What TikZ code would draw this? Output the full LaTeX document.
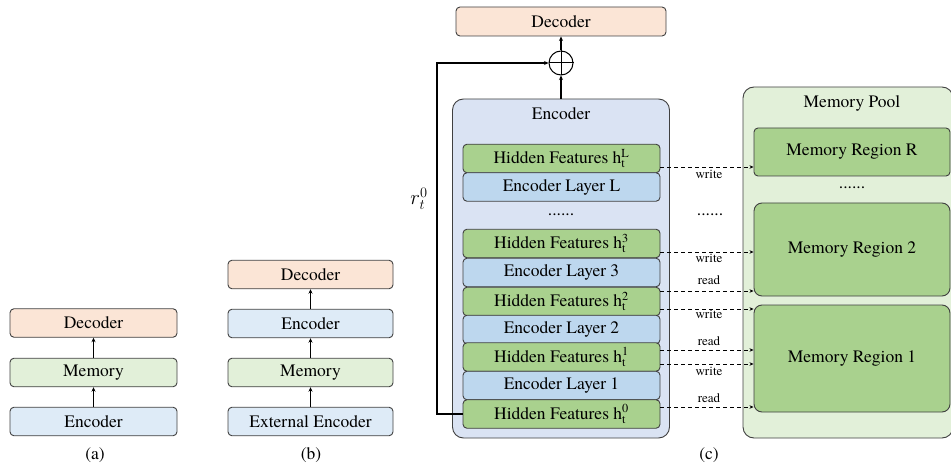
\documentclass[tikz,border=0pt]{standalone}
\usepackage{fontspec}
\setmainfont{texgyretermes}[Extension=.otf, UprightFont=*-regular, BoldFont=*-bold, ItalicFont=*-italic, BoldItalicFont=*-bolditalic]
\usepackage{amsmath}
\usetikzlibrary{arrows.meta}
\definecolor{dec}{HTML}{FBE5D6}
\definecolor{mem}{HTML}{E2F0D9}
\definecolor{encb}{HTML}{DEEBF7}
\definecolor{enco}{HTML}{DAE3F3}
\definecolor{encl}{HTML}{BDD7EE}
\definecolor{hid}{HTML}{A9D18E}
\definecolor{bord}{HTML}{404040}
\tikzset{
  box/.style={draw=bord, line width=0.9pt, rounded corners=4pt, minimum width=#1,
    minimum height=28.5pt, inner sep=0pt, font=\fontsize{17.5}{20}\selectfont},
  big/.style={draw=bord, line width=0.9pt, rounded corners=11pt, inner sep=0pt},
  txt/.style={inner sep=0pt, font=\fontsize{17.5}{20}\selectfont},
  small/.style={inner sep=0pt, font=\fontsize{13}{15}\selectfont},
  conn/.style={line width=1.3pt, -{Stealth[length=4.5pt,width=4pt]}},
  darr/.style={line width=0.9pt, dash pattern=on 4pt off 3pt, -{Stealth[length=4pt,width=3.5pt]}},
}
\newcommand{\hfeat}[1]{Hidden Features h$_{\text{t}}^{\text{#1}}$}
\begin{document}
\begin{tikzpicture}[x=1pt,y=-1pt]
\useasboundingbox (0,0) rectangle (951,476);
% (a)
\node[box=167pt, fill=dec] (aD) at (93.5,323) {Decoder};
\node[box=167pt, fill=mem] (aM) at (93.5,372.5) {Memory};
\node[box=167pt, fill=encb] (aE) at (93.5,421.5) {Encoder};
\draw[conn] (aE) -- (aM);
\draw[conn] (aM) -- (aD);
\node[txt] (la) at (95,455) {(a)};
% (b)
\node[box=165pt, fill=dec] (bD) at (310.5,274.5) {Decoder};
\node[box=165pt, fill=encb] (bE) at (310.5,323.5) {Encoder};
\node[box=165pt, fill=mem] (bM) at (310.5,372.5) {Memory};
\node[box=165pt, fill=encb] (bX) at (310.5,421.5) {External Encoder};
\draw[conn] (bX) -- (bM);
\draw[conn] (bM) -- (bE);
\draw[conn] (bE) -- (bD);
\node[txt] (lb) at (311,455) {(b)};
% (c)
\node[box=210pt, fill=dec, minimum height=29pt] (cD) at (561,21.5) {Decoder};
\node[circle, draw=black, line width=1pt, minimum size=24pt, inner sep=0pt] (plus) at (561,63) {};
\draw[line width=1pt] (plus.north) -- (plus.south) (plus.west) -- (plus.east);
\node[big, fill=enco, minimum width=217pt, minimum height=339pt] (encO) at (561,268.5) {};
\node[txt] (encT) at (561,114) {Encoder};
\draw[conn] (encO.north) -- (plus.south);
\draw[conn] (plus.north) -- (cD.south);

\node[box=197pt, fill=hid] (hL) at (561.5,158.5) {\hfeat{L}};
\node[box=197pt, fill=encl] (eL) at (561.5,187) {Encoder Layer L};
\node[txt] (dots1) at (561,215) {......};
\node[box=197pt, fill=hid] (h3) at (561.5,243.5) {\hfeat{3}};
\node[box=197pt, fill=encl] (e3) at (561.5,272.5) {Encoder Layer 3};
\node[box=197pt, fill=hid] (h2) at (561.5,301.5) {\hfeat{2}};
\node[box=197pt, fill=encl] (e2) at (561.5,329.5) {Encoder Layer 2};
\node[box=197pt, fill=hid] (h1) at (561.5,357) {\hfeat{1}};
\node[box=197pt, fill=encl] (e1) at (561.5,385.5) {Encoder Layer 1};
\node[box=197pt, fill=hid] (h0) at (561.5,414) {\hfeat{0}};

\coordinate (lc) at (437,63);
\draw[conn] (h0.west) -- (h0.west -| lc) -- (lc) -- (plus.west);
\node[inner sep=0pt, font=\fontsize{20}{22}\selectfont] (r0) at (419,199) {$r_t^0$};

% memory pool
\node[big, fill=mem, minimum width=210pt, minimum height=351pt] (pool) at (848,262.5) {};
\node[txt] (poolT) at (852,103) {Memory Pool};
\node[box=196pt, fill=hid, minimum height=48pt] (mR) at (852,152) {Memory Region R};
\node[txt] (dots2) at (852,188) {......};
\node[box=196pt, fill=hid, minimum height=93pt, rounded corners=8pt] (m2) at (852,249.5) {Memory Region 2};
\node[box=196pt, fill=hid, minimum height=107pt, rounded corners=8pt] (m1) at (852,358.5) {Memory Region 1};

% dashed connections
\coordinate (y1) at (0,167);
\coordinate (y2) at (0,252);
\coordinate (y3) at (0,291);
\coordinate (y4) at (0,309);
\coordinate (y5) at (0,350);
\coordinate (y6) at (0,364);
\coordinate (y7) at (0,407);
\draw[darr] (hL.east |- y1) -- (mR.west |- y1);
\draw[darr] (h3.east |- y2) -- (m2.west |- y2);
\draw[darr] (h2.east |- y3) -- (m2.west |- y3);
\draw[darr] (h2.east |- y4) -- (m1.west |- y4);
\draw[darr] (h1.east |- y5) -- (m1.west |- y5);
\draw[darr] (h1.east |- y6) -- (m1.west |- y6);
\draw[darr] (h0.east |- y7) -- (m1.west |- y7);
\node[small] (t1) at (709,174) {write};
\node[txt] (dots3) at (710,215) {......};
\node[small] (t2) at (709,258) {write};
\node[small] (t3) at (709,280) {read};
\node[small] (t4) at (709,314) {write};
\node[small] (t5) at (709,341) {read};
\node[small] (t6) at (709,371) {write};
\node[small] (t7) at (709,398) {read};
\node[txt] (lc2) at (709,455) {(c)};
\end{tikzpicture}
\end{document}
